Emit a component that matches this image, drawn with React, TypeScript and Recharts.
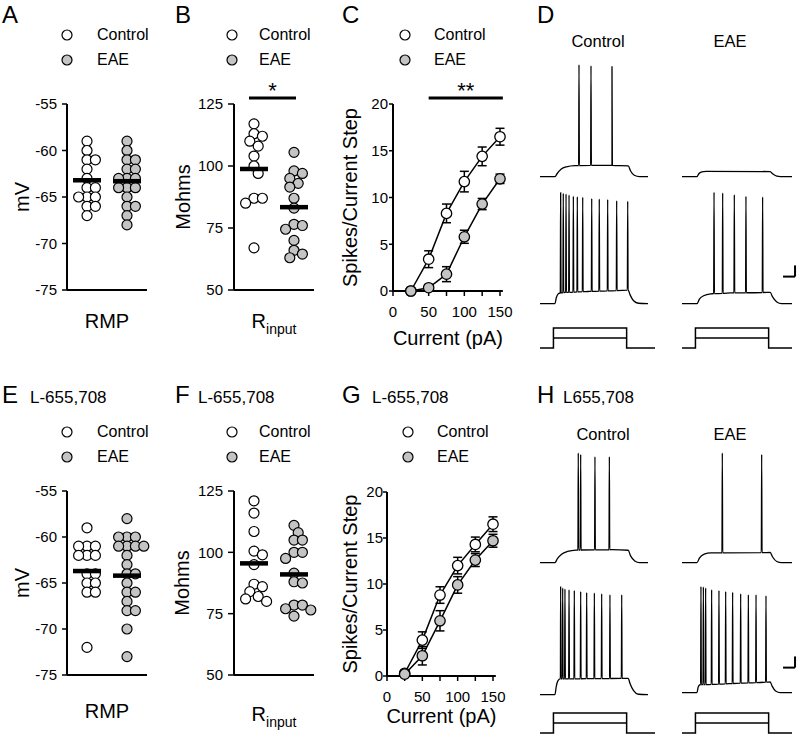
import React from "react";
import {
  ScatterChart,
  Scatter,
  LineChart,
  Line,
  XAxis,
  YAxis,
  ReferenceLine,
  ErrorBar,
  Legend,
} from "recharts";

const FONT = "'Liberation Sans', Arial, Helvetica, sans-serif";
const INK = "#000";
const EAE_FILL = "#c4c4c4";
const GROUPS = ["Control", "EAE"];

// A / E: resting membrane potential (mV)
const rmpTicks = [-75, -70, -65, -60, -55];
const rmpControl = [-59, -60, -61, -61, -62, -63, -64, -64, -65, -65, -65, -66, -66, -67];
const rmpEAE = [-59, -60, -61, -61, -62, -62, -63, -63, -63, -64, -64, -64, -65, -66, -66, -67, -68];
const rmpMeans = [-63.2, -63.3];
const rmpControlL655 = [-59, -61, -61, -61, -62, -62, -62, -64, -64, -65, -65, -66, -66, -72];
const rmpEAEL655 = [-58, -60, -60, -60, -61, -61, -61, -61, -62, -63, -64, -64, -65, -66, -66, -67, -68, -68, -70, -73];
const rmpMeansL655 = [-63.7, -64.2];

// B / F: input resistance (Mohms)
const rinTicks = [50, 75, 100, 125];
const rinControl = [117, 113, 112, 110, 108, 104, 100, 97, 87, 87, 85, 67];
const rinEAE = [105.5, 98, 97, 95, 93, 91.5, 87, 83, 76.5, 76, 74.5, 70, 66, 64.5, 63];
const rinMeans = [98.8, 83.4];
const rinControlL655 = [121, 116, 108.5, 100.5, 99, 95, 87, 86, 84, 82, 81, 80];
const rinEAEL655 = [111, 108, 105, 105, 100, 100, 97.5, 91.5, 88, 87.5, 78.5, 78.5, 77, 76.5, 74];
const rinMeansL655 = [95.5, 91];

// C / G: spikes per current step
const currentSteps = [25, 50, 75, 100, 125, 150];
const currentTicks = [0, 25, 50, 75, 100, 125, 150];
const currentLabels = [0, 50, 100, 150];
const spikeTicks = [0, 5, 10, 15, 20];
const spikesControl = [0, 3.4, 8.3, 11.7, 14.4, 16.5];
const spikesControlErr = [0, 0.9, 1.0, 1.1, 1.0, 0.9];
const spikesEAE = [0, 0.35, 1.8, 5.8, 9.3, 12.0];
const spikesEAEErr = [0, 0.2, 0.8, 0.7, 0.6, 0.5];
const spikesControlL655 = [0.3, 3.9, 8.8, 12.0, 14.3, 16.5];
const spikesControlErrL655 = [0.2, 0.9, 0.9, 0.9, 0.8, 0.8];
const spikesEAEL655 = [0.2, 2.2, 6.0, 9.9, 12.6, 14.7];
const spikesEAEErrL655 = [0.2, 1.0, 1.1, 0.9, 0.7, 0.7];

// D / H: example voltage traces (t in ms, membrane potential in mV)
const envD1C = [[0, -65], [125, -65], [145, -62], [175, -58.5], [220, -56.3], [290, -55.2], [450, -55], [600, -55], [735, -55.5], [755, -60], [785, -63.8], [830, -65], [900, -65]];
const spikesD1C = [325, 425, 600];
const peaksD1C = [35, 34, 33.5];
const envD1E = [[0, -65], [125, -65], [140, -62.5], [165, -60.8], [200, -60.3], [735, -60.5], [755, -62.5], [790, -64.6], [820, -65], [917, -65]];
const spikesD1E: number[] = [];
const peaksD1E: number[] = [];
const envD2C = [[0, -65], [125, -65], [135, -60], [150, -56.5], [175, -55.2], [400, -54.2], [735, -53], [750, -57], [780, -62.5], [820, -64.7], [900, -65]];
const spikesD2C = [172, 194, 217, 242, 278, 311, 356, 431, 494, 564, 639, 731];
const peaksD2C = [34, 33.5, 33, 32, 31, 30.5, 30, 29, 28.5, 28, 27, 26.5];
const envD2E = [[0, -65], [125, -65], [145, -61], [180, -58], [240, -56.3], [400, -55.5], [735, -55], [755, -59], [790, -63.5], [830, -65], [917, -65]];
const spikesD2E = [267, 339, 436, 533, 672];
const peaksD2E = [34.4, 33.8, 32.3, 30.8, 30.3];
const envH1C = [[0, -65], [125, -65], [145, -61.5], [180, -57.5], [230, -55], [300, -53.8], [600, -53.5], [735, -54], [755, -59], [790, -63.5], [830, -65], [900, -65]];
const spikesH1C = [319, 339, 458, 578];
const peaksH1C = [33, 31.5, 29.5, 29.5];
const envH1E = [[0, -65], [125, -65], [145, -61], [185, -57.5], [240, -56.3], [735, -56], [755, -60], [790, -64], [830, -65], [917, -65]];
const spikesH1E = [336, 664];
const peaksH1E = [33, 31.5];
const envH2C = [[0, -65], [125, -65], [135, -58], [150, -52.5], [170, -51], [735, -50.5], [750, -55], [780, -61.5], [820, -64.7], [900, -65]];
const spikesH2C = [172, 189, 208, 242, 286, 339, 389, 453, 514, 583, 681];
const peaksH2C = [31.7, 30.3, 29.4, 28.7, 28, 27.2, 26.3, 25.8, 25.2, 24.3, 24.3];
const envH2E = [[0, -65], [125, -65], [135, -60], [150, -58], [400, -57], [735, -55.5], [750, -59], [780, -63.5], [820, -65], [917, -65]];
const spikesH2E = [158, 178, 197, 247, 308, 364, 422, 489, 553, 617, 700];
const peaksH2E = [29.9, 29.4, 28.5, 27, 26.3, 25.4, 24.6, 23.4, 22.5, 22.5, 21.6];

// current step command: on/off times (ms) and the two step amplitudes
const stepOnOff = [112, 722];
const stepLevels = [1, 2];
const SCALE_MS = 100;
const SCALE_MV = 10;

// layout
const PX_PER_MS = 0.12;
const PX_PER_MV = 1.12;
const V_TOP = 40;
const V_BOTTOM = -70;
const V_REST = -65;
const X_MAX_PA = 154;
const axisLine = { stroke: INK, strokeWidth: 2 };
const tickLine = { stroke: INK, strokeWidth: 1.5 };
const tickFont = { fill: INK, fontSize: 15, fontFamily: FONT };

// simple beeswarm: shift a dot sideways until it no longer overlaps the ones already placed
function swarm(values: number[], center: number, pxPerX: number, pxPerY: number) {
  const placed: { px: number; py: number }[] = [];
  return values.map((v) => {
    const py = v * pxPerY;
    let px = 0;
    for (let k = 0; k < 40; k++) {
      const cand = (k % 2 === 1 ? 1 : -1) * Math.ceil(k / 2) * 4.2;
      if (placed.every((p) => (p.px - cand) ** 2 + (p.py - py) ** 2 >= 8.3 ** 2)) {
        px = cand;
        break;
      }
    }
    placed.push({ px, py });
    return { x: center + px / pxPerX, y: v };
  });
}

function envAt(env: number[][], t: number) {
  for (let i = 1; i < env.length; i++) {
    if (t <= env[i][0]) {
      const [t0, v0] = env[i - 1];
      const [t1, v1] = env[i];
      return v0 + ((v1 - v0) * (t - t0)) / (t1 - t0);
    }
  }
  return env[env.length - 1][1];
}

function buildTrace(env: number[][], spikes: number[], peaks: number[]) {
  const pts = env.map(([t, v]) => ({ t, v }));
  spikes.forEach((ts, i) => {
    const base = envAt(env, ts);
    pts.push({ t: ts - 3, v: base }, { t: ts, v: peaks[i] }, { t: ts + 3, v: base });
  });
  return pts.sort((a, b) => a.t - b.t);
}

const YTitle = (props: any) => {
  const vb = props.viewBox || { x: 0, y: 0, width: 0, height: 0 };
  const x = vb.x + props.dx;
  const y = vb.y + vb.height / 2;
  return (
    <text x={x} y={y} transform={`rotate(-90 ${x} ${y})`} textAnchor="middle" fontSize={20} fontFamily={FONT} fill={INK}>
      {props.text}
    </text>
  );
};

const XTitle = (props: any) => {
  const vb = props.viewBox || { x: 0, y: 0, width: 0, height: 0 };
  const x = vb.x + vb.width / 2;
  const y = vb.y + props.dy;
  return (
    <text x={x} y={y} textAnchor="middle" fontSize={20} fontFamily={FONT} fill={INK}>
      {props.text}
      {props.sub && (
        <tspan fontSize={14} dy={6}>
          {props.sub}
        </tspan>
      )}
    </text>
  );
};

const GroupKey = ({ gap }: { gap: number }) => (
  <div style={{ fontFamily: FONT, fontSize: 16, color: INK }}>
    {GROUPS.map((g, i) => (
      <div key={g} style={{ display: "flex", alignItems: "center", height: 25 }}>
        <svg width={12} height={12}>
          <circle cx={6} cy={6} r={5} fill={i ? EAE_FILL : "#fff"} stroke={INK} strokeWidth={1.2} />
        </svg>
        <span style={{ marginLeft: gap - 6 }}>{g}</span>
      </div>
    ))}
  </div>
);

const dotShape = (fill: string) => (p: any) => (
  <circle cx={p.cx} cy={p.cy} r={5} fill={fill} stroke={INK} strokeWidth={1.2} />
);

// group mean: thick horizontal bar drawn on top of the dots
const meanShape = (p: any) => <rect x={p.cx - 14} y={p.cy - 2.25} width={28} height={4.5} fill={INK} />;

function DotPanel(p: any) {
  const XH = 40;
  const width = p.yAxisW + 80 + p.rightPad;
  const pxPerY = (p.plotBottom - p.plotTop) / (p.domain[1] - p.domain[0]);
  const ctrl = swarm(p.control, 1, 40, pxPerY);
  const eae = swarm(p.eae, 2, 40, pxPerY);
  const means = p.means.map((m: number, i: number) => ({ x: i + 1, y: m }));
  return (
    <div style={{ position: "absolute", left: p.left, top: p.top }}>
      <ScatterChart
        width={width}
        height={p.height}
        margin={{ top: p.plotTop - p.top, right: p.rightPad, bottom: p.top + p.height - p.plotBottom - XH, left: 0 }}
      >
        <XAxis type="number" dataKey="x" domain={[0.5, 2.5]} tick={false} tickLine={false} axisLine={axisLine} height={XH}
          label={<XTitle text={p.xTitle} sub={p.xSub} dy={p.xTitleDy} />} />
        <YAxis type="number" dataKey="y" domain={p.domain} ticks={p.ticks} width={p.yAxisW} tickSize={p.tickSize}
          tickMargin={5} axisLine={axisLine} tickLine={tickLine} tick={tickFont} interval={0}
          label={<YTitle text={p.yTitle} dx={p.yTitleDx} />} />
        <Scatter name="Control" data={ctrl} shape={dotShape("#fff")} isAnimationActive={false} />
        <Scatter name="EAE" data={eae} shape={dotShape(EAE_FILL)} isAnimationActive={false} />
        <Scatter name="Mean" data={means} shape={meanShape} isAnimationActive={false} legendType="none" />
        {p.sig && (
          <ReferenceLine segment={[{ x: p.sig.x[0], y: p.sig.y }, { x: p.sig.x[1], y: p.sig.y }]} stroke={INK}
            strokeWidth={3} ifOverflow="visible"
            label={{ value: p.sig.text, position: "top", offset: 0, fontSize: 22, fill: INK, fontFamily: FONT }} />
        )}
        <Legend layout="vertical" align="center" verticalAlign="middle" content={<GroupKey gap={p.legend[2]} />}
          wrapperStyle={{ left: p.legend[0] - 6 - p.left, top: p.legend[1] - 12.5 - p.top, width: "auto" }} />
      </ScatterChart>
    </div>
  );
}

function RatePanel(p: any) {
  const XH = 55;
  const width = 185;
  const plotW = X_MAX_PA * p.pxPerPA;
  const rows = currentSteps.map((c, i) => ({
    current: c,
    ctrl: p.ctrl[i],
    ctrlErr: p.ctrlErr[i],
    eae: p.eae[i],
    eaeErr: p.eaeErr[i],
  }));
  return (
    <div style={{ position: "absolute", left: p.left, top: p.top }}>
      <LineChart
        width={width}
        height={p.height}
        data={rows}
        margin={{ top: p.plotTop - p.top, right: width - p.yAxisW - plotW, bottom: p.top + p.height - p.plotBottom - XH, left: 0 }}
      >
        <XAxis type="number" dataKey="current" domain={[0, X_MAX_PA]} ticks={currentTicks} interval={0}
          tickFormatter={(v: number) => (currentLabels.includes(v) ? String(v) : "")}
          tickSize={5} tickMargin={10.6} height={XH} axisLine={axisLine} tickLine={tickLine} tick={tickFont}
          label={<XTitle text="Current (pA)" dy={p.xTitleDy} />} />
        <YAxis type="number" domain={[0, 20]} ticks={spikeTicks} interval={0} width={p.yAxisW} tickSize={4}
          tickMargin={p.tickMargin} axisLine={axisLine} tickLine={tickLine} tick={tickFont}
          label={<YTitle text="Spikes/Current Step" dx={27} />} />
        <Line dataKey="ctrl" stroke={INK} strokeWidth={1.5} isAnimationActive={false}
          dot={{ r: 5.2, fill: "#fff", stroke: INK, strokeWidth: 1.3 }} activeDot={false}>
          <ErrorBar dataKey="ctrlErr" width={4.5} stroke={INK} strokeWidth={1.5} direction="y" />
        </Line>
        <Line dataKey="eae" stroke={INK} strokeWidth={1.5} isAnimationActive={false}
          dot={{ r: 5.2, fill: EAE_FILL, stroke: INK, strokeWidth: 1.3 }} activeDot={false}>
          <ErrorBar dataKey="eaeErr" width={4.5} stroke={INK} strokeWidth={1.5} direction="y" />
        </Line>
        {p.sig && (
          <ReferenceLine segment={[{ x: p.sig.x[0], y: p.sig.y }, { x: p.sig.x[1], y: p.sig.y }]} stroke={INK}
            strokeWidth={3} ifOverflow="visible"
            label={{ value: p.sig.text, position: "top", offset: 0, fontSize: 22, fill: INK, fontFamily: FONT }} />
        )}
        <Legend layout="vertical" align="center" verticalAlign="middle" content={<GroupKey gap={p.legend[2]} />}
          wrapperStyle={{ left: p.legend[0] - 6 - p.left, top: p.legend[1] - 12.5 - p.top, width: "auto" }} />
      </LineChart>
    </div>
  );
}

function Trace(p: any) {
  const data = buildTrace(p.env, p.spikes, p.peaks);
  const h = (V_TOP - V_BOTTOM) * PX_PER_MV;
  return (
    <div style={{ position: "absolute", left: p.left, top: p.baseline - (V_TOP - V_REST) * PX_PER_MV }}>
      <LineChart width={p.width} height={h} data={data} margin={{ top: 0, right: 0, bottom: 0, left: 0 }}>
        <XAxis type="number" dataKey="t" domain={[0, p.width / PX_PER_MS]} hide />
        <YAxis type="number" domain={[V_BOTTOM, V_TOP]} hide />
        <Line type="monotoneX" dataKey="v" stroke={INK} strokeWidth={1.3} dot={false} activeDot={false} isAnimationActive={false} />
        {p.bar && (
          <ReferenceLine segment={[{ x: p.bar[0], y: p.bar[1] }, { x: p.bar[0] + SCALE_MS, y: p.bar[1] }]}
            stroke={INK} strokeWidth={2} ifOverflow="visible" />
        )}
        {p.bar && (
          <ReferenceLine segment={[{ x: p.bar[0] + SCALE_MS, y: p.bar[1] }, { x: p.bar[0] + SCALE_MS, y: p.bar[1] + SCALE_MV }]}
            stroke={INK} strokeWidth={2} ifOverflow="visible" />
        )}
      </LineChart>
    </div>
  );
}

function Command(p: any) {
  const end = p.width / PX_PER_MS;
  const [on, off] = stepOnOff;
  const outer = [
    { t: 0, i: 0 }, { t: on, i: 0 }, { t: on, i: stepLevels[1] },
    { t: off, i: stepLevels[1] }, { t: off, i: 0 }, { t: end, i: 0 },
  ];
  const inner = [{ t: on, i: stepLevels[0] }, { t: off, i: stepLevels[0] }];
  return (
    <div style={{ position: "absolute", left: p.left, top: p.baseline - 23 }}>
      <LineChart width={p.width} height={26} margin={{ top: 0, right: 0, bottom: 0, left: 0 }}>
        <XAxis type="number" dataKey="t" domain={[0, end]} hide />
        <YAxis type="number" domain={[-0.3, 2.3]} hide />
        <Line data={outer} type="linear" dataKey="i" stroke={INK} strokeWidth={1.5} dot={false} activeDot={false} isAnimationActive={false} />
        <Line data={inner} type="linear" dataKey="i" stroke={INK} strokeWidth={1.5} dot={false} activeDot={false} isAnimationActive={false} />
      </LineChart>
    </div>
  );
}

const txt = (x: number, y: number, s: string, size: number, anchor = "start") => (
  <text key={`${s}-${x}-${y}`} x={x} y={y} fontSize={size} fontFamily={FONT} fill={INK} textAnchor={anchor}>
    {s}
  </text>
);

export default function App() {
  return (
    <div style={{ position: "absolute", left: 0, top: 0, width: 800, height: 736, background: "#fff", overflow: "hidden" }}>
      <DotPanel left={0} top={0} height={340} plotTop={104} plotBottom={290} yAxisW={67} rightPad={13}
        domain={[-75, -55]} ticks={rmpTicks} tickSize={5} control={rmpControl} eae={rmpEAE} means={rmpMeans}
        yTitle="mV" yTitleDx={29} xTitle="RMP" xTitleDy={38} legend={[67, 35, 30]} />
      <DotPanel left={160} top={0} height={340} plotTop={104} plotBottom={290} yAxisW={74} rightPad={16}
        domain={[50, 125]} ticks={rinTicks} tickSize={6} control={rinControl} eae={rinEAE} means={rinMeans}
        yTitle="Mohms" yTitleDx={30} xTitle="R" xSub="input" xTitleDy={38} legend={[232, 35, 27]}
        sig={{ x: [0.875, 2.05], y: 127.4, text: "*" }} />
      <RatePanel left={330} top={0} height={355} plotTop={104} plotBottom={291} yAxisW={63} pxPerPA={107 / 150}
        tickMargin={1} ctrl={spikesControl} ctrlErr={spikesControlErr} eae={spikesEAE} eaeErr={spikesEAEErr}
        xTitleDy={54} legend={[405, 35, 29]} sig={{ x: [50, 154], y: 20.64, text: "**" }} />

      <DotPanel left={0} top={370} height={362} plotTop={491} plotBottom={675} yAxisW={67} rightPad={13}
        domain={[-75, -55]} ticks={rmpTicks} tickSize={5} control={rmpControlL655} eae={rmpEAEL655} means={rmpMeansL655}
        yTitle="mV" yTitleDx={29} xTitle="RMP" xTitleDy={43} legend={[67, 432, 30]} />
      <DotPanel left={160} top={370} height={362} plotTop={491} plotBottom={675} yAxisW={74} rightPad={16}
        domain={[50, 125]} ticks={rinTicks} tickSize={6} control={rinControlL655} eae={rinEAEL655} means={rinMeansL655}
        yTitle="Mohms" yTitleDx={29} xTitle="R" xSub="input" xTitleDy={46} legend={[232, 432, 27]} />
      <RatePanel left={330} top={370} height={362} plotTop={492} plotBottom={676} yAxisW={57} pxPerPA={106 / 150}
        tickMargin={0} ctrl={spikesControlL655} ctrlErr={spikesControlErrL655} eae={spikesEAEL655} eaeErr={spikesEAEErrL655}
        xTitleDy={47} legend={[408, 432, 29]} />

      <Trace left={540} baseline={177} width={108} env={envD1C} spikes={spikesD1C} peaks={peaksD1C} />
      <Trace left={682} baseline={177} width={115} env={envD1E} spikes={spikesD1E} peaks={peaksD1E} />
      <Trace left={540} baseline={304} width={108} env={envD2C} spikes={spikesD2C} peaks={peaksD2C} />
      <Trace left={682} baseline={304} width={115} env={envD2E} spikes={spikesD2E} peaks={peaksD2E} bar={[842, -40.9]} />
      <Command left={540} baseline={348} width={115} />
      <Command left={682} baseline={348} width={110} />

      <Trace left={540} baseline={563} width={108} env={envH1C} spikes={spikesH1C} peaks={peaksH1C} />
      <Trace left={682} baseline={563} width={115} env={envH1E} spikes={spikesH1E} peaks={peaksH1E} />
      <Trace left={540} baseline={695} width={108} env={envH2C} spikes={spikesH2C} peaks={peaksH2C} />
      <Trace left={682} baseline={693} width={115} env={envH2E} spikes={spikesH2E} peaks={peaksH2E} bar={[842, -42.7]} />
      <Command left={540} baseline={733} width={115} />
      <Command left={682} baseline={733} width={110} />

      <svg width={800} height={736} style={{ position: "absolute", left: 0, top: 0, pointerEvents: "none" }}>
        {txt(2, 23, "A", 24)}
        {txt(175, 23, "B", 24)}
        {txt(342, 23, "C", 24)}
        {txt(537, 23, "D", 24)}
        {txt(2, 403, "E", 24)}
        {txt(175, 403, "F", 24)}
        {txt(342, 403, "G", 24)}
        {txt(537, 403, "H", 24)}
        {txt(30, 403, "L-655,708", 17)}
        {txt(198, 403, "L-655,708", 17)}
        {txt(372, 403, "L-655,708", 17)}
        {txt(563, 403, "L655,708", 17)}
        {txt(598, 47, "Control", 16.5, "middle")}
        {txt(730, 47, "EAE", 16.5, "middle")}
        {txt(603, 440, "Control", 16.5, "middle")}
        {txt(730, 440, "EAE", 16.5, "middle")}
      </svg>
    </div>
  );
}
